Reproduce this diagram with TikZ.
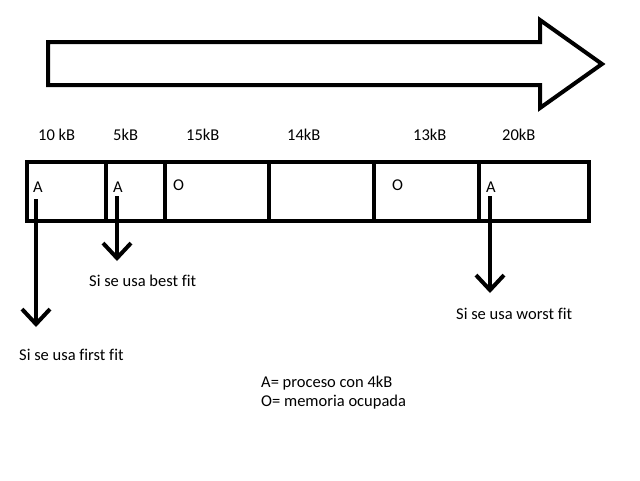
\documentclass[tikz,border=0pt]{standalone}
\usepackage{fontspec}
\setmainfont{Carlito}[Ligatures=CommonOff]
\usetikzlibrary{arrows.meta}
\tikzset{
  part/.style={draw, line width=4pt, minimum height=59pt, inner sep=0pt, anchor=north west},
  lbl/.style={font=\fontsize{16.5}{19}\selectfont, inner sep=0pt, anchor=west},
  downarrow/.style={line width=4pt, -{Straight Barb[length=15pt,width=28pt,line width=4pt]}},
  bigarrow/.style={line width=4pt, line join=miter}
}
\begin{document}
\begin{tikzpicture}[x=1pt,y=-1pt]
\useasboundingbox (0,0) rectangle (640,480);
% big arrow
\draw[bigarrow] (48,42) -- (540,42) -- (540,20) -- (602,64) -- (540,108) -- (540,85) -- (48,85) -- cycle;
% size labels
\node[lbl] (s1) at (38,135) {10 kB};
\node[lbl] (s2) at (113,135) {5kB};
\node[lbl] (s3) at (186,135) {15kB};
\node[lbl] (s4) at (287,135) {14kB};
\node[lbl] (s5) at (413,135) {13kB};
\node[lbl] (s6) at (502,135) {20kB};
% memory partitions
\node[part, minimum width=79pt] (p1) at (25,160) {};
\node[part, minimum width=59pt] (p2) at (104,160) {};
\node[part, minimum width=104pt] (p3) at (163,160) {};
\node[part, minimum width=105pt] (p4) at (267,160) {};
\node[part, minimum width=105pt] (p5) at (372,160) {};
\node[part, minimum width=110pt] (p6) at (477,160) {};
% letters
\node[lbl] (a1) at (33,187) {A};
\node[lbl] (a2) at (113,187) {A};
\node[lbl] (o1) at (173,185) {O};
\node[lbl] (o2) at (392,185) {O};
\node[lbl] (a3) at (486,187) {A};
% arrow coordinates
\coordinate (f0) at (36,199);
\coordinate (f1) at (36,327);
\coordinate (b0) at (117,196);
\coordinate (b1) at (117,261);
\coordinate (w0) at (490,196);
\coordinate (w1) at (490,293);
\draw[downarrow] (f0) -- (f1);
\draw[downarrow] (b0) -- (b1);
\draw[downarrow] (w0) -- (w1);
% captions
\node[lbl] (tb) at (89,281) {Si se usa best fit};
\node[lbl] (tf) at (19,355) {Si se usa first fit};
\node[lbl] (tw) at (456,314) {Si se usa worst fit};
% legend
\node[lbl] (la) at (261,383) {A= proceso con 4kB};
\node[lbl] (lo) at (261,402) {O= memoria ocupada};
\end{tikzpicture}
\end{document}
